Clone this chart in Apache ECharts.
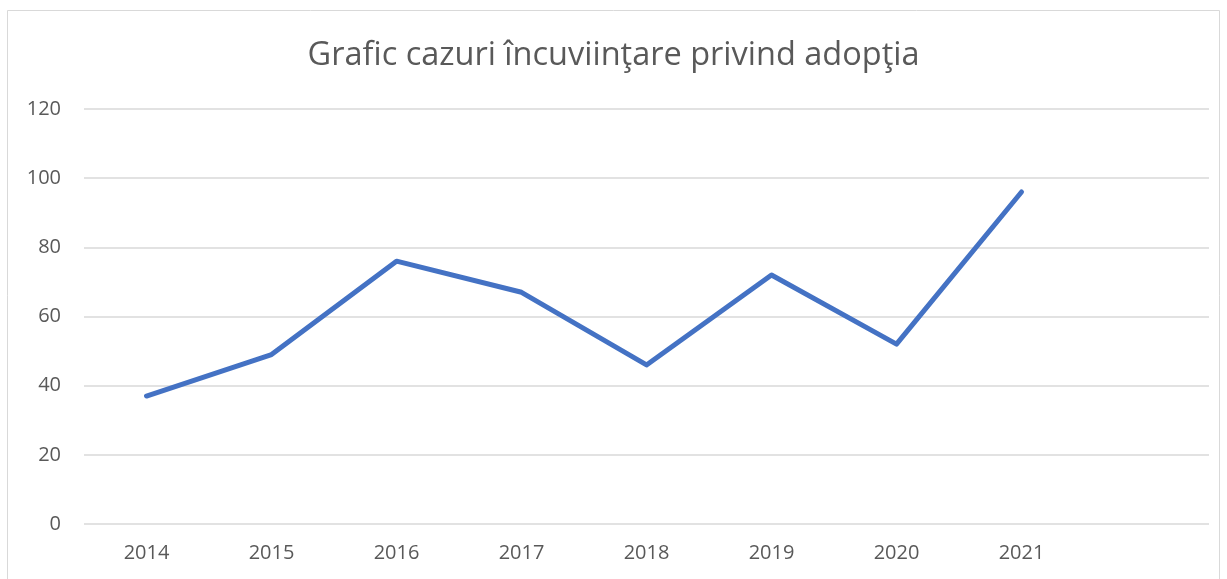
<!DOCTYPE html>
<html>
<head>
<meta charset="UTF-8">
<title>adoptie</title>
<script src="https://cdn.jsdelivr.net/npm/echarts@6/dist/echarts.min.js"></script>
<style>
	html, body { margin:0; padding:0; background:#fff; }
	#chart-div { width:1227px; height:579px; }
</style>
</head>
<body>
	<div id="chart-div"></div>

	<script type="text/javascript">
		// years on the axis; Excel left one empty slot after 2021
		var years = ['2014', '2015', '2016', '2017', '2018', '2019', '2020', '2021', ''];
		var cases = [37, 49, 76, 67, 46, 72, 52, 96];
		var yTicks = { min: 0, max: 120, step: 20 };
		var titleText = 'Grafic cazuri încuviinţare privind adopţia';

		window.onload = drawChart;

		function drawChart(){
			var myChart = echarts.init(document.getElementById('chart-div'));
			var font = 'Open Sans, Noto Sans, sans-serif';

			var option = {
				backgroundColor: '#fff',
				animation: false,
				title: {
					text: titleText,
					left: 'center',
					top: 34,
					textStyle: { fontFamily: font, fontSize: 32.5, fontWeight: 'normal', color: '#595959' }
				},
				graphic: [{
					type: 'rect',
					shape: { x: 7.5, y: 10.5, width: 1212, height: 620 },
					style: { fill: 'none', stroke: '#d9d9d9', lineWidth: 1 },
					silent: true
				}],
				grid: { left: 84, right: 18, top: 109, bottom: 55 },
				xAxis: {
					type: 'category',
					data: years,
					boundaryGap: true,
					axisLine: { show: false },
					axisTick: { show: false },
					axisLabel: { margin: 19, fontFamily: font, fontSize: 20, color: '#595959', interval: 0 }
				},
				yAxis: {
					type: 'value',
					min: yTicks.min,
					max: yTicks.max,
					interval: yTicks.step,
					axisLine: { show: false },
					axisTick: { show: false },
					axisLabel: { margin: 23, fontFamily: font, fontSize: 20, color: '#595959' },
					splitLine: { lineStyle: { color: '#d9d9d9', width: 1.5 } }
				},
				series: [{
					name: 'cazuri',
					type: 'line',
					data: cases,
					symbol: 'none',
					lineStyle: { color: '#4472c4', width: 5, cap: 'round', join: 'round' }
				}]
			};

			myChart.setOption(option);
		}
	</script>
</body>
</html>
